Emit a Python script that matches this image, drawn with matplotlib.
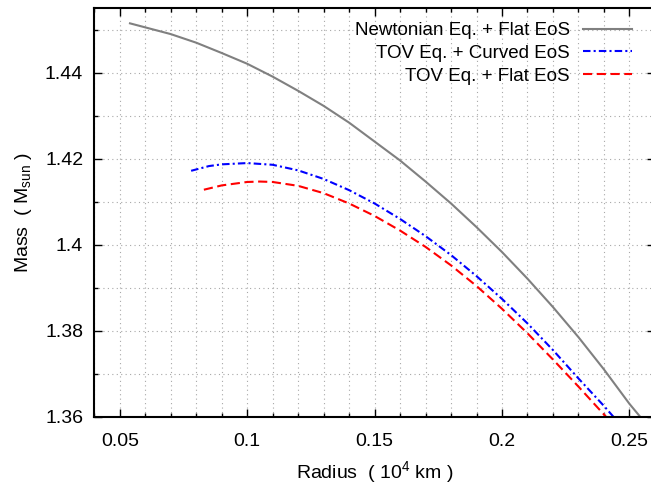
import matplotlib
matplotlib.use("Agg")
import matplotlib.pyplot as plt
from matplotlib.ticker import MultipleLocator, FormatStrFormatter

fam = "Liberation Sans"
plt.rcParams["font.family"] = [fam, "DejaVu Sans"]
plt.rcParams["mathtext.fontset"] = "custom"
plt.rcParams["mathtext.rm"] = fam
plt.rcParams["mathtext.it"] = fam
plt.rcParams["mathtext.default"] = "rm"

# Newtonian Eq. + Flat EoS
r_newt = [0.054, 0.07, 0.08, 0.09, 0.10, 0.11, 0.12, 0.13, 0.14, 0.15, 0.16,
          0.17, 0.18, 0.19, 0.20, 0.21, 0.22, 0.23, 0.24, 0.25, 0.2542]
m_newt = [1.4515, 1.4490, 1.4470, 1.4446, 1.4421, 1.4391, 1.4358, 1.4323, 1.4284,
          1.4240, 1.4196, 1.4147, 1.4096, 1.4041, 1.3983, 1.3921, 1.3855, 1.3785,
          1.3710, 1.3630, 1.3600]

# TOV Eq. + Curved EoS
r_curv = [0.078, 0.085, 0.09, 0.10, 0.11, 0.12, 0.13, 0.14, 0.15, 0.16, 0.17,
          0.18, 0.19, 0.20, 0.21, 0.22, 0.23, 0.24, 0.2437]
m_curv = [1.4172, 1.4183, 1.4187, 1.4190, 1.4186, 1.4173, 1.4153, 1.4127, 1.4096,
          1.4060, 1.4020, 1.3976, 1.3927, 1.3874, 1.3817, 1.3755, 1.3689, 1.3625,
          1.3600]

# TOV Eq. + Flat EoS
r_flat = [0.083, 0.09, 0.10, 0.105, 0.11, 0.12, 0.13, 0.14, 0.15, 0.16, 0.17,
          0.18, 0.19, 0.20, 0.21, 0.22, 0.23, 0.2408]
m_flat = [1.4128, 1.4138, 1.4146, 1.4147, 1.4146, 1.4137, 1.4120, 1.4096, 1.4067,
          1.4033, 1.3995, 1.3952, 1.3904, 1.3851, 1.3794, 1.3733, 1.3670, 1.3600]

W, H = 651, 487
fig = plt.figure(figsize=(W / 100, H / 100), dpi=100)
ax = fig.add_axes([94.3 / W, (H - 416.7) / H, 560.6 / W, 408.4 / H])

lw = 1.5
ax.plot(r_newt, m_newt, color="#808080", lw=lw, label="Newtonian Eq. + Flat EoS")
ax.plot(r_curv, m_curv, color="#0000ff", lw=lw, dashes=(3.6, 1.5, 1.0, 1.5),
        label="TOV Eq. + Curved EoS")
ax.plot(r_flat, m_flat, color="#ff0000", lw=lw, dashes=(4.4, 2.2),
        label="TOV Eq. + Flat EoS")

ax.set_xlim(0.04, 0.26)
ax.set_ylim(1.36, 1.455)
ax.xaxis.set_major_locator(MultipleLocator(0.05))
ax.xaxis.set_minor_locator(MultipleLocator(0.01))
ax.yaxis.set_major_locator(MultipleLocator(0.02))
ax.yaxis.set_minor_locator(MultipleLocator(0.01))
ax.xaxis.set_major_formatter(FormatStrFormatter("%g"))
ax.yaxis.set_major_formatter(FormatStrFormatter("%g"))

ax.grid(True, which="both", color="#a8a8a8", linestyle=(0, (1, 3)), linewidth=0.8)
ax.set_axisbelow(True)
ax.tick_params(which="both", direction="in", top=True, right=True, width=1, color="black")
ax.tick_params(which="major", length=5.5, labelsize=14, pad=8)
ax.tick_params(which="minor", length=3)
ax.tick_params(axis="x", which="major", pad=12)
for s in ax.spines.values():
    s.set_linewidth(1.5)

ax.set_xlabel("Radius  ( 10$^4$ km )", fontsize=14, labelpad=6)
ax.set_ylabel("Mass  ( M$_{\\rm sun}$ )", fontsize=14, labelpad=8)

leg = ax.legend(loc="upper right", bbox_to_anchor=(631.7 / W, (H - 22) / H),
                bbox_transform=fig.transFigure, frameon=False, markerfirst=False,
                fontsize=13.5, handlelength=2.6, handletextpad=0.7, labelspacing=0.3,
                borderpad=0, borderaxespad=0)

fig.savefig("out.png", dpi=100)
